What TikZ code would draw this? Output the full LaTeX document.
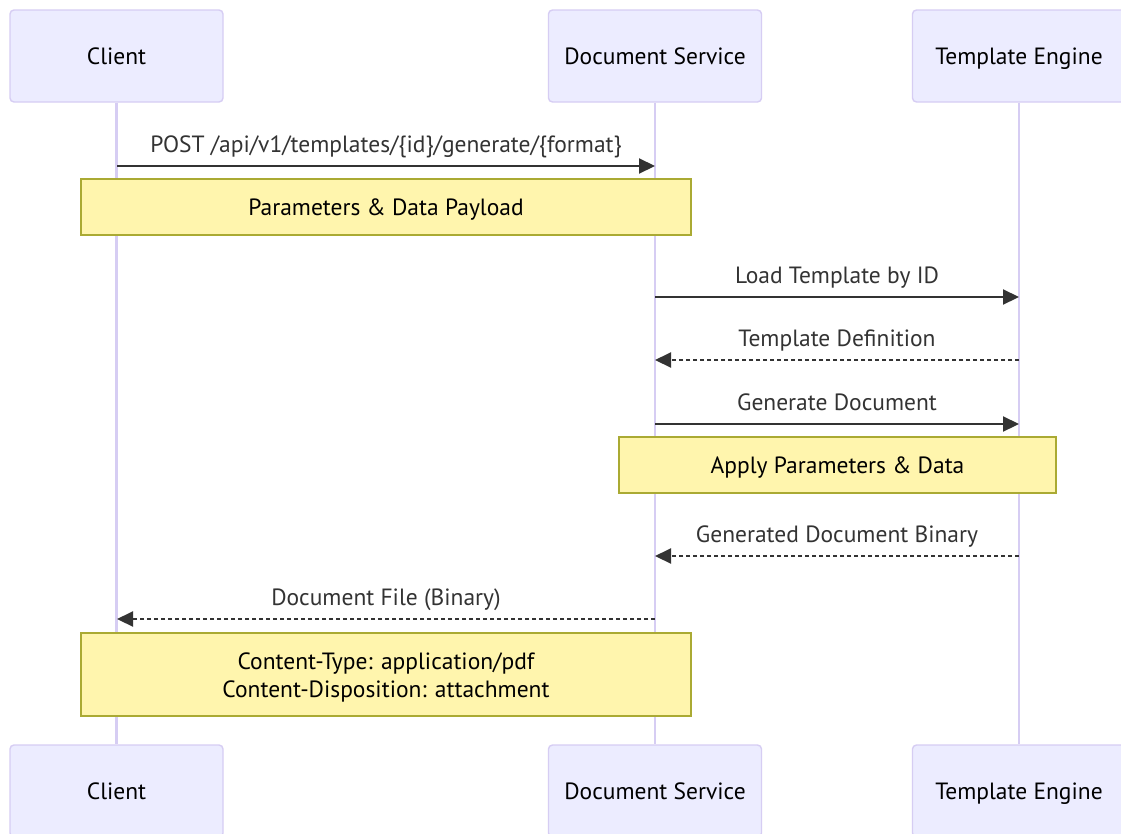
\documentclass[tikz,border=0pt]{standalone}
\usepackage{fontspec}
\setmainfont{PT Sans}
\usetikzlibrary{arrows.meta}
\definecolor{actorfill}{HTML}{ECECFF}
\definecolor{actorline}{HTML}{D6CDF3}
\definecolor{notefill}{HTML}{FFF5AD}
\definecolor{noteline}{HTML}{AAAA33}
\definecolor{sig}{HTML}{333333}
\tikzset{
  fnt/.style={font=\fontsize{23.5}{28}\selectfont},
  actor/.style={draw=actorline,fill=actorfill,line width=1.4pt,rounded corners=4pt,
    minimum width=213pt,minimum height=92pt,inner sep=0pt,fnt,text height=17pt,text depth=0pt},
  notebox/.style={draw=noteline,fill=notefill,line width=1.4pt,inner sep=0pt,
    fnt,align=center},
  oneline/.style={text height=17pt,text depth=0pt},
  life/.style={draw=actorline,line width=2.6pt},
  msg/.style={draw=sig,line width=2.1pt,-{Triangle[length=16pt,width=15pt]}},
  reply/.style={msg,dash pattern=on 4pt off 3pt},
  lbl/.style={text=sig,fnt,inner sep=0pt,text height=16pt,text depth=5pt}
}
\begin{document}
\begin{tikzpicture}[x=1pt,y=-1pt]
\useasboundingbox (0,0) rectangle (1121,833);
\clip (0,0) rectangle (1121,833);
\fill[white] (0,0) rectangle (1121,833);
% actors
\node[actor] (ct) at (116.5,56) {Client};
\node[actor] (dt) at (655,56) {Document Service};
\node[actor] (tt) at (1019,56) {Template Engine};
\node[actor] (cb) at (116.5,791) {Client};
\node[actor] (db) at (655,791) {Document Service};
\node[actor] (tb) at (1019,791) {Template Engine};
% lifelines
\draw[life] (ct.south) -- (cb.north);
\draw[life] (dt.south) -- (db.north);
\draw[life] (tt.south) -- (tb.north);
% message anchor points
\coordinate (c1) at (117,166);  \coordinate (d1) at (655,166);
\coordinate (d2) at (655,297);  \coordinate (t2) at (1019,297);
\coordinate (t3) at (1019,360); \coordinate (d3) at (655,360);
\coordinate (d4) at (655,424);  \coordinate (t4) at (1019,424);
\coordinate (t5) at (1019,556); \coordinate (d5) at (655,556);
\coordinate (d6) at (655,619);  \coordinate (c6) at (117,619);
% messages
\draw[msg] (c1) -- node[lbl,above=7pt] {POST /api/v1/templates/\{id\}/generate/\{format\}} (d1);
\node[notebox,oneline,minimum width=610pt,minimum height=56pt] (n1) at (386,207) {Parameters \& Data Payload};
\draw[msg] (d2) -- node[lbl,above=7pt] {Load Template by ID} (t2);
\draw[reply] (t3) -- node[lbl,above=7pt] {Template Definition} (d3);
\draw[msg] (d4) -- node[lbl,above=7pt] {Generate Document} (t4);
\node[notebox,oneline,minimum width=437pt,minimum height=56pt] (n2) at (837.5,465) {Apply Parameters \& Data};
\draw[reply] (t5) -- node[lbl,above=7pt] {Generated Document Binary} (d5);
\draw[reply] (d6) -- node[lbl,above=7pt] {Document File (Binary)} (c6);
\node[notebox,minimum width=610pt,minimum height=83pt] (n3) at (386,674.5) {};
\node[fnt,align=center,inner sep=0pt] (n3t) at ([yshift=-3pt]n3.center) {Content-Type: application/pdf\\Content-Disposition: attachment};
\end{tikzpicture}
\end{document}
